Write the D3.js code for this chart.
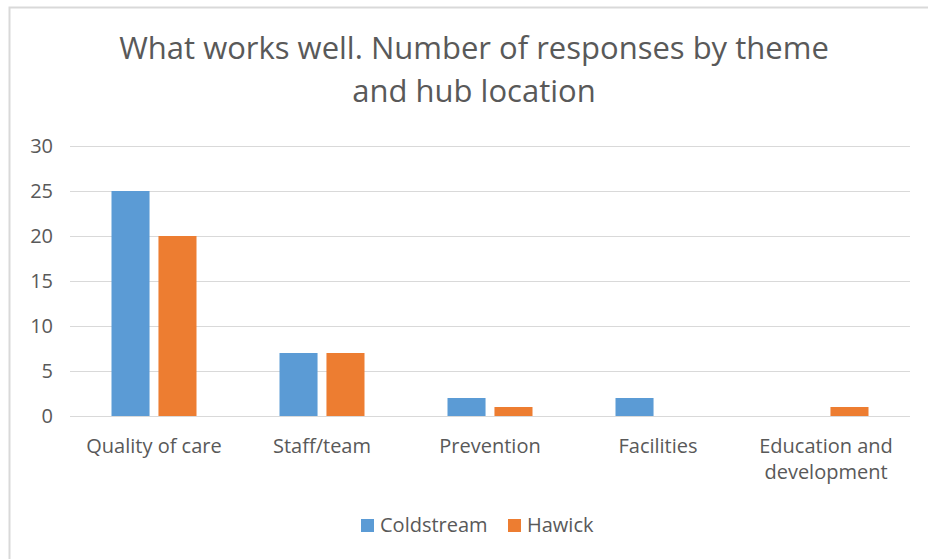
<!DOCTYPE html>
<html>
<head>
	<title>What works well</title>
	<meta charset="utf-8">
	<script src="https://cdn.jsdelivr.net/npm/d3@7/dist/d3.min.js"></script>
	<style>
		body { margin: 0; background: #fff; }
		text { font-family: "Open Sans", Lato, sans-serif; fill: #595959; }
	</style>
</head>
<body>
	<script type="text/javascript">
		var width = 928
		var height = 559

		// data
		var themes = ["Quality of care", "Staff/team", "Prevention", "Facilities", "Education and development"]
		var hubs = ["Coldstream", "Hawick"]
		var coldstream = [25, 7, 2, 2, 0]
		var hawick = [20, 7, 1, 0, 1]
		var yTicks = [0, 5, 10, 15, 20, 25, 30]
		var colours = ["#5B9BD5", "#ED7D31"]
		var titleLines = ["What works well. Number of responses by theme", "and hub location"]

		var rows = themes.map(function(t, i) {
			return {theme: t, values: [coldstream[i], hawick[i]]}
		})

		var svg = d3.select("body").append("svg")
			.attr("width", width)
			.attr("height", height)

		// chart border (only top and left edges show in the picture)
		svg.append("rect")
			.attr("x", 9.5)
			.attr("y", 7.5)
			.attr("width", 1000)
			.attr("height", 1000)
			.attr("fill", "none")
			.attr("stroke", "#d9d9d9")
			.attr("stroke-width", 2)

		var plotL = 70, plotR = 910, plotT = 146, plotB = 416

		var y = d3.scaleLinear().domain([0, 30]).range([plotB, plotT])

		var x0 = d3.scaleBand()
			.domain(themes)
			.range([plotL, plotR])
			.paddingInner(83 / 168)
			.paddingOuter(83 / 168 / 2)

		var x1 = d3.scaleBand()
			.domain(d3.range(hubs.length))
			.range([0, x0.bandwidth()])
			.paddingInner(0.19)

		// gridlines
		svg.append("g")
			.selectAll("line")
			.data(yTicks)
			.enter()
			.append("line")
				.attr("x1", plotL)
				.attr("x2", plotR)
				.attr("y1", d => Math.round(y(d)) + 0.5)
				.attr("y2", d => Math.round(y(d)) + 0.5)
				.attr("stroke", "#d9d9d9")
				.attr("stroke-width", 1)

		// y axis labels
		var yAxis = d3.axisLeft(y).tickValues(yTicks).tickSize(0).tickPadding(0)
		var gy = svg.append("g")
			.attr("transform", "translate(53,0)")
			.call(yAxis)
		gy.select(".domain").remove()
		gy.selectAll("text")
			.attr("font-size", 20)
			.attr("font-family", null)
			.attr("fill", null)

		// bars
		var groups = svg.append("g")
			.selectAll("g")
			.data(rows)
			.enter()
			.append("g")
				.attr("transform", d => "translate(" + x0(d.theme) + ",0)")

		groups.selectAll("rect")
			.data(d => d.values)
			.enter()
			.append("rect")
				.attr("x", (d, i) => x1(i))
				.attr("y", d => y(d))
				.attr("width", x1.bandwidth())
				.attr("height", d => plotB - y(d))
				.attr("fill", (d, i) => colours[i])

		// category labels, wrapped to the band width
		var xAxis = d3.axisBottom(x0).tickSize(0).tickPadding(0)
		var gx = svg.append("g")
			.attr("transform", "translate(0," + (plotB + 23) + ")")
			.call(xAxis)
		gx.select(".domain").remove()
		gx.selectAll("text")
			.attr("font-size", 20)
			.attr("font-family", null)
			.attr("fill", null)
			.call(wrap, x0.step() - 10)

		function wrap(texts, w) {
			texts.each(function() {
				var text = d3.select(this)
				var words = text.text().split(" ")
				var yy = text.attr("y")
				var dy = parseFloat(text.attr("dy"))
				text.text(null)
				var line = []
				var lineNo = 0
				var tspan = text.append("tspan").attr("x", 0).attr("y", yy).attr("dy", dy + "em")
				words.forEach(function(word) {
					line.push(word)
					tspan.text(line.join(" "))
					if (tspan.node().getComputedTextLength() > w && line.length > 1) {
						line.pop()
						tspan.text(line.join(" "))
						line = [word]
						lineNo++
						tspan = text.append("tspan").attr("x", 0).attr("y", yy)
							.attr("dy", (lineNo * 1.3 + dy) + "em").text(word)
					}
				})
			})
		}

		// title
		svg.append("g")
			.selectAll("text")
			.data(titleLines)
			.enter()
			.append("text")
				.attr("x", 474)
				.attr("y", (d, i) => 59 + i * 43)
				.attr("text-anchor", "middle")
				.attr("font-size", 31)
				.text(d => d)

		// legend
		var legend = svg.append("g")
			.attr("transform", "translate(361,525)")
		var items = legend.selectAll("g")
			.data(hubs)
			.enter()
			.append("g")
				.attr("transform", (d, i) => "translate(" + (i * 147) + ",0)")
		items.append("rect")
			.attr("x", 0)
			.attr("y", -6)
			.attr("width", 13)
			.attr("height", 13)
			.attr("fill", (d, i) => colours[i])
		items.append("text")
			.attr("x", 19)
			.attr("dy", "0.35em")
			.attr("font-size", 20)
			.text(d => d)
	</script>
</body>
</html>
